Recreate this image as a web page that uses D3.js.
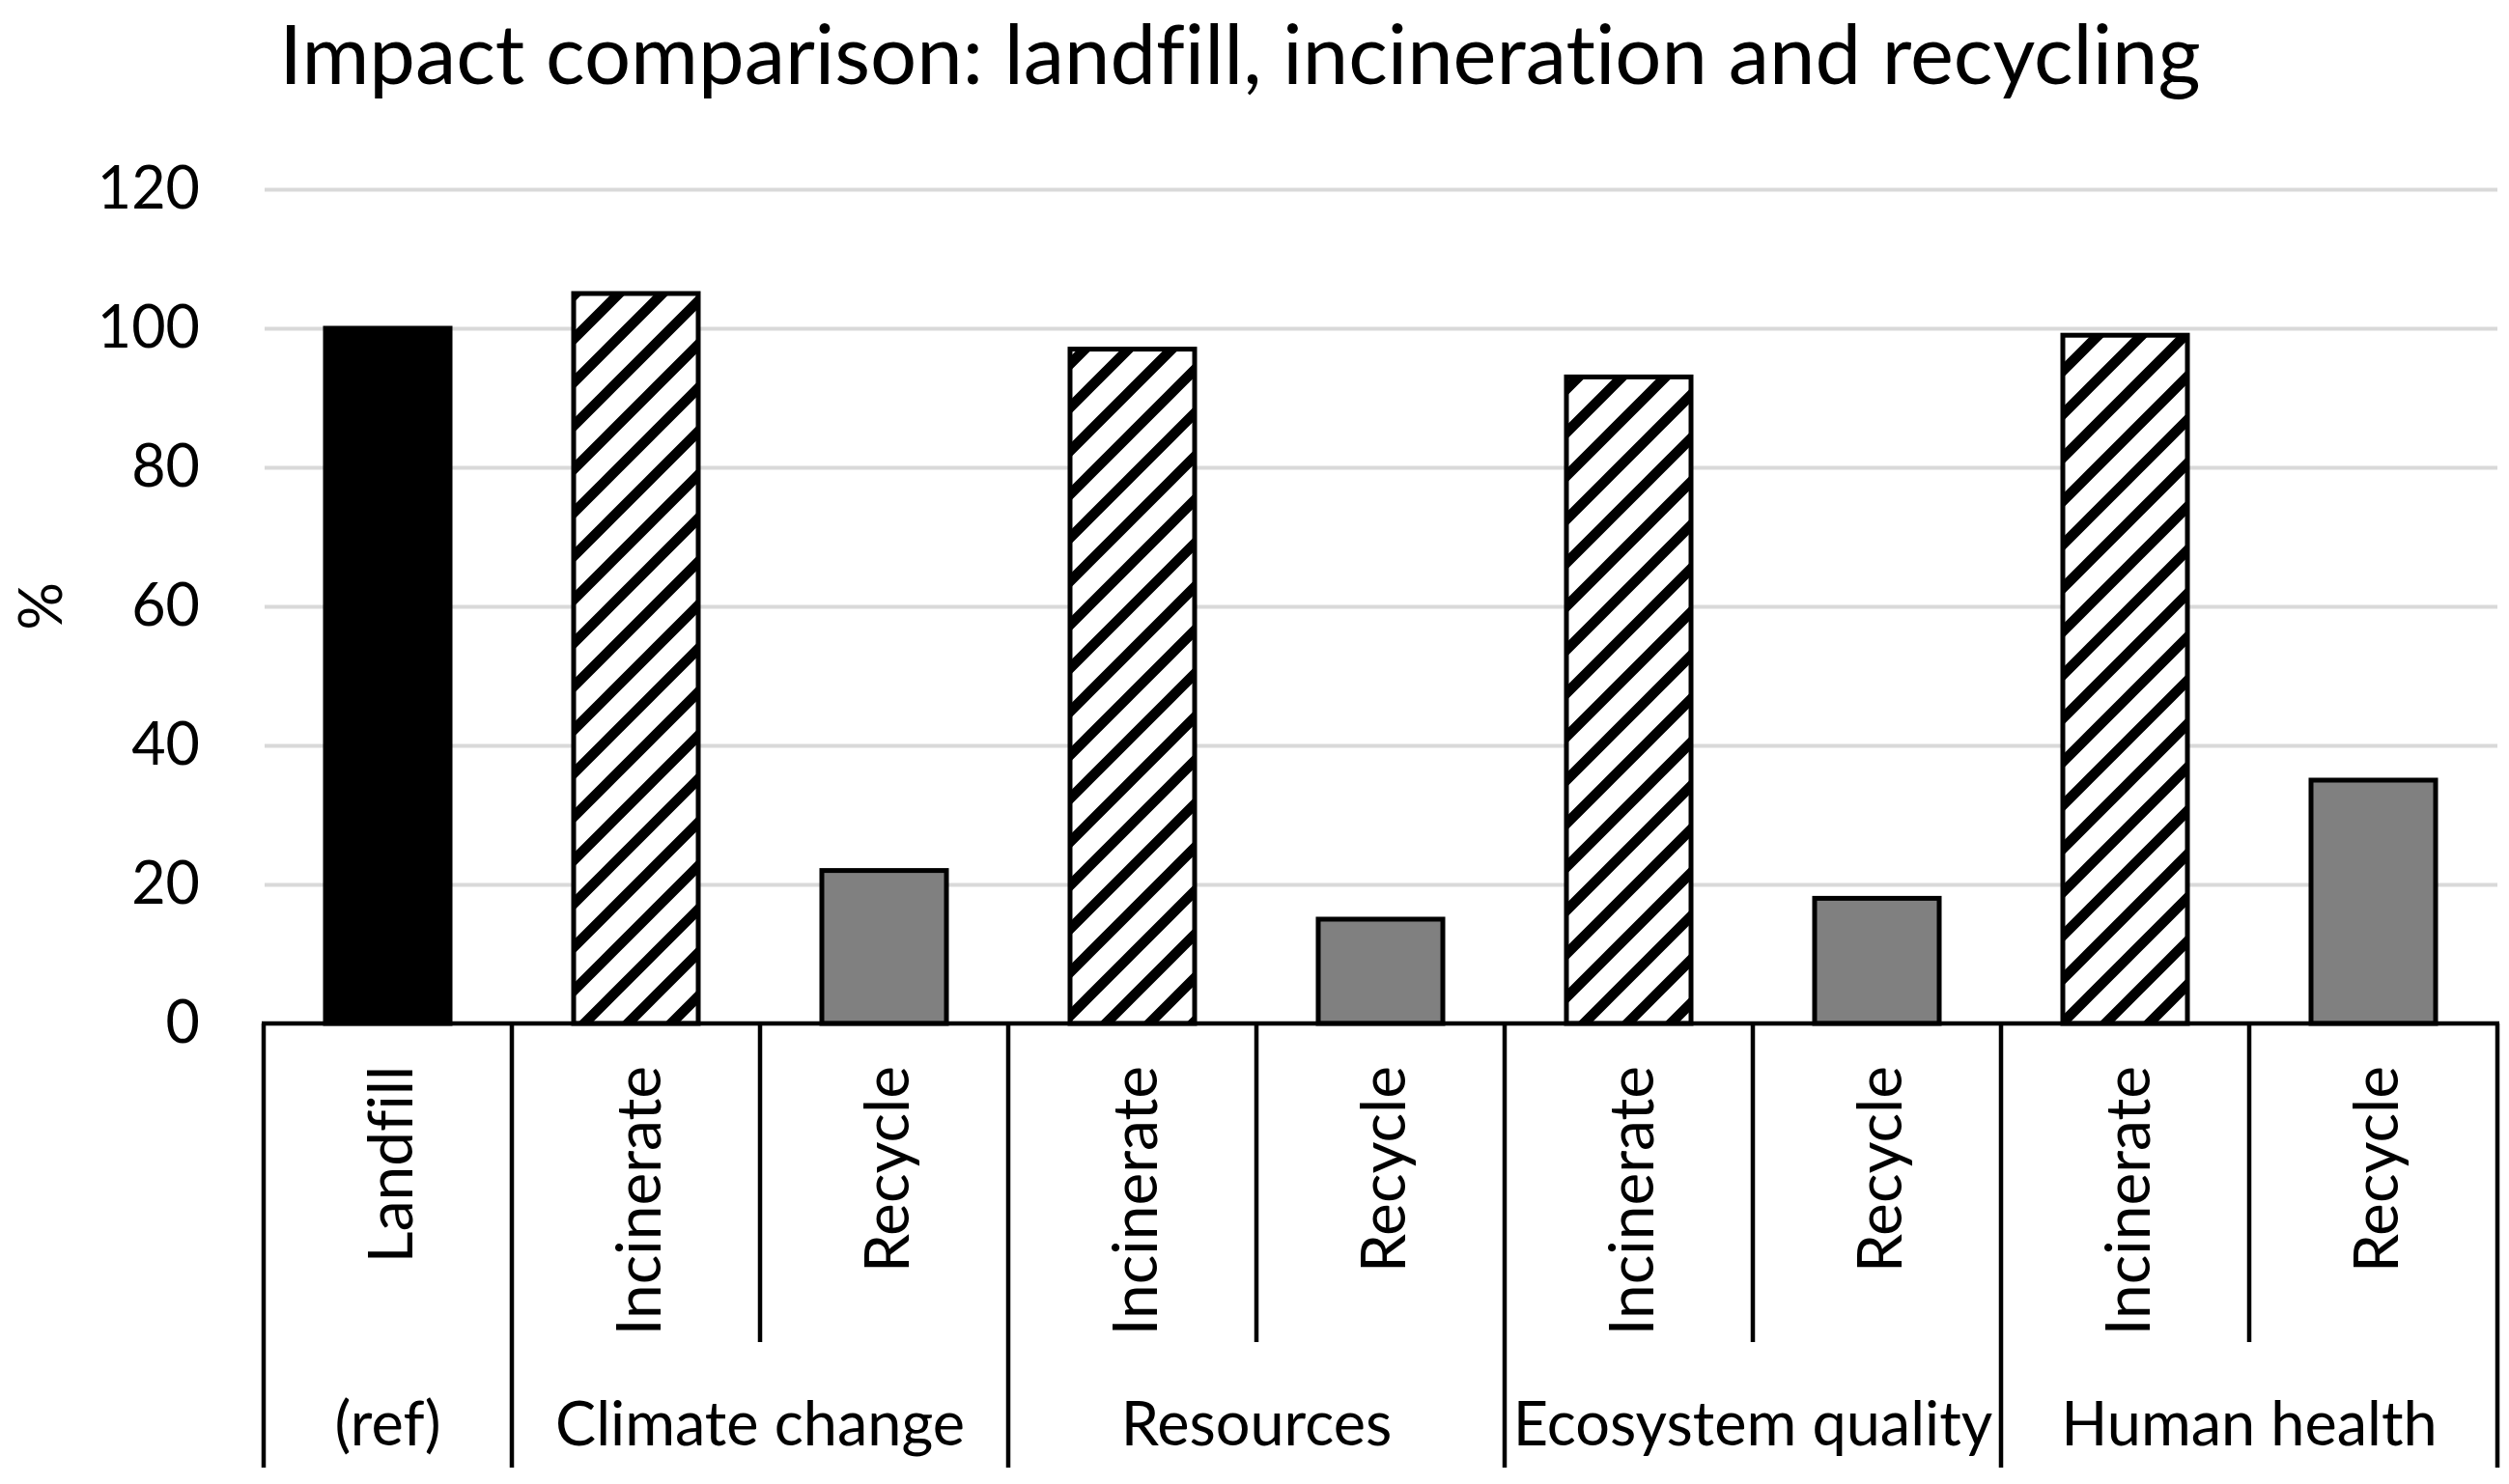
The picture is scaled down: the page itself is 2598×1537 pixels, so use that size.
<!DOCTYPE html>
<html>
<head>
<meta charset="utf-8">
<script src="https://cdn.jsdelivr.net/npm/d3@7"></script>
<style>
  html, body { margin: 0; padding: 0; background: #ffffff; }
  svg { display: block; }
  text { font-family: Lato, "Open Sans", sans-serif; fill: #000; font-variant-ligatures: none; font-feature-settings: "liga" 0, "clig" 0; }
</style>
</head>
<body>
<svg id="chart" width="2598" height="1537"></svg>
<script>
// ---------------- data ----------------
const chartTitle = "Impact comparison: landfill, incineration and recycling";
const yAxisTitle = "%";
const options = ["Landfill", "Incinerate", "Recycle", "Incinerate", "Recycle", "Incinerate", "Recycle", "Incinerate", "Recycle"];
const groups  = ["(ref)", "Climate change", "Climate change", "Resources", "Resources",
                 "Ecosystem quality", "Ecosystem quality", "Human health", "Human health"];
const values  = [100, 105, 22, 97, 15, 93, 18, 99, 35];
const yTicks  = [0, 20, 40, 60, 80, 100, 120];

// ---------------- layout ----------------
const plotLeft = 273, plotRight = 2586, plotTop = 196, plotBottom = 1060;

const svg = d3.select("#chart");

// hatch pattern (wide upward diagonal)
const defs = svg.append("defs");
const P = 45;
const pat = defs.append("pattern")
  .attr("id", "hatch")
  .attr("patternUnits", "userSpaceOnUse")
  .attr("width", P).attr("height", P);
pat.append("rect").attr("width", P).attr("height", P).attr("fill", "#fff");
pat.append("path")
  .attr("d", `M${-P/4},${P/4} L${P/4},${-P/4} M0,${P} L${P},0 M${P*3/4},${P*5/4} L${P*5/4},${P*3/4}`)
  .attr("stroke", "#000").attr("stroke-width", 10.5);

const idx = d3.range(values.length);
const x = d3.scaleBand().domain(idx).range([plotLeft, plotRight])
  .paddingInner(0.498).paddingOuter(0.249);
const y = d3.scaleLinear().domain([0, 120]).range([plotBottom, plotTop]);
const step = x.step();

// gridlines + y tick labels
const yAxis = d3.axisLeft(y).tickValues(yTicks)
  .tickSize(-(plotRight - plotLeft - 1)).tickPadding(67);
const gy = svg.append("g").attr("transform", `translate(${plotLeft + 1},0)`).call(yAxis);
gy.select(".domain").remove();
gy.selectAll(".tick line").attr("stroke", "#d9d9d9").attr("stroke-width", 4);
gy.selectAll(".tick text")
  .style("font-family", "Lato, 'Open Sans', sans-serif")
  .attr("font-size", 61).attr("fill", "#000");

// bars
const fillFor = o => o === "Landfill" ? "#000" : (o === "Incinerate" ? "url(#hatch)" : "#808080");
svg.append("g").selectAll("rect").data(idx).join("rect")
  .attr("x", i => x(i))
  .attr("width", x.bandwidth())
  .attr("y", i => y(values[i]))
  .attr("height", i => y(0) - y(values[i]))
  .attr("fill", i => fillFor(options[i]))
  .attr("stroke", "#000")
  .attr("stroke-width", 5);

// category axis line
svg.append("line")
  .attr("x1", plotLeft - 2).attr("x2", plotRight + 2)
  .attr("y1", y(0)).attr("y2", y(0))
  .attr("stroke", "#000").attr("stroke-width", 4.5);

// dividers
const boundaries = d3.range(values.length + 1);
svg.append("g").selectAll("line").data(boundaries).join("line")
  .attr("x1", b => plotLeft + b * step)
  .attr("x2", b => plotLeft + b * step)
  .attr("y1", y(0))
  .attr("y2", b => (b === 0 || b === values.length || groups[b] !== groups[b - 1]) ? 1520 : 1390)
  .attr("stroke", "#000").attr("stroke-width", 4.5);

// option labels (rotated)
svg.append("g").selectAll("text").data(idx).join("text")
  .attr("transform", i => `translate(${x(i) + x.bandwidth() / 2 + 25},1104) rotate(-90)`)
  .attr("text-anchor", "end")
  .attr("font-size", 64)
  .text(i => options[i]);

// group labels
const groupNames = Array.from(new Set(groups));
svg.append("g").selectAll("text").data(groupNames).join("text")
  .attr("x", g => {
    const first = groups.indexOf(g), last = groups.lastIndexOf(g);
    return plotLeft + (first + last + 1) / 2 * step;
  })
  .attr("y", 1497)
  .attr("text-anchor", "middle")
  .attr("font-size", 63)
  .text(g => g);

// y axis title
svg.append("text")
  .attr("transform", `translate(64,${(plotTop + plotBottom) / 2}) rotate(-90)`)
  .attr("text-anchor", "middle")
  .attr("font-size", 62)
  .text(yAxisTitle);

// chart title
svg.append("text")
  .attr("x", 1284).attr("y", 87)
  .attr("text-anchor", "middle")
  .attr("font-size", 85)
  .text(chartTitle);
</script>
</body>
</html>
